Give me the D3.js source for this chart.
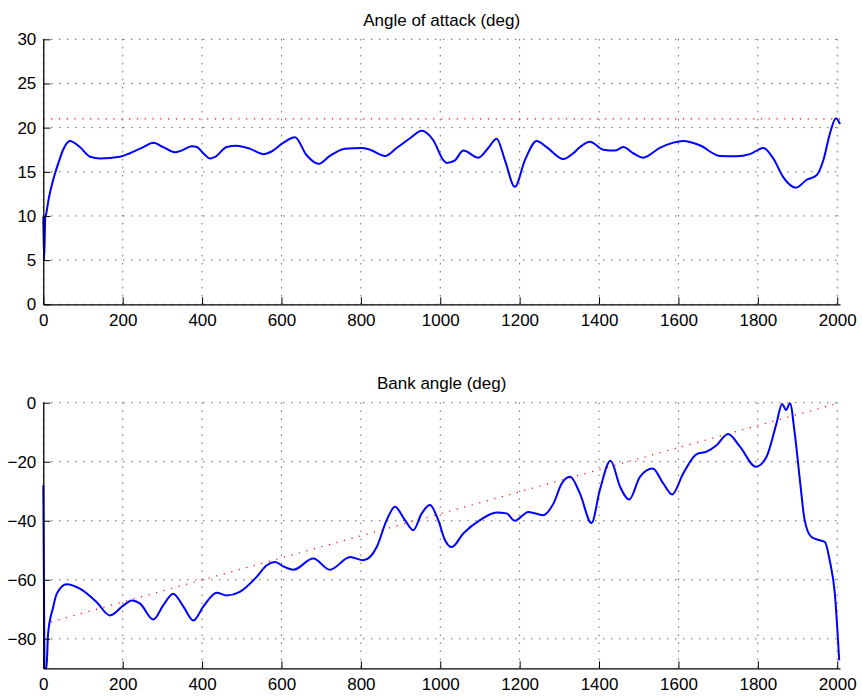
<!DOCTYPE html>
<html>
<head>
<meta charset="utf-8">
<script src="https://cdn.jsdelivr.net/npm/d3@7"></script>
<style>
  body { margin: 0; background: #fff; }
  text { font-family: "Liberation Sans", Arial, sans-serif; }
</style>
</head>
<body>
<svg id="chart" width="862" height="697"></svg>
<script>
// time axis (s)
var xTicks = [0, 200, 400, 600, 800, 1000, 1200, 1400, 1600, 1800, 2000]
var xMax = 2007

// angle of attack
var aoaT = [0, 2, 5, 7, 13, 25, 38, 50, 63, 67, 92, 118, 143, 193, 218, 252, 277, 302, 332, 348, 374, 387, 403, 420, 433, 462, 487, 521, 554, 575, 605, 634, 663, 693, 722, 760, 802, 823, 861, 890, 924, 953, 982, 1008, 1016, 1037, 1058, 1096, 1121, 1142, 1163, 1188, 1213, 1243, 1268, 1310, 1335, 1352, 1377, 1411, 1440, 1461, 1486, 1511, 1553, 1587, 1612, 1654, 1704, 1746, 1780, 1814, 1839, 1864, 1896, 1923, 1948, 1965, 1982, 1997, 2007]
var aoaDeg = [9.9, 5.0, 9.9, 10.2, 11.8, 14.1, 16.0, 17.5, 18.4, 18.5, 17.8, 16.7, 16.5, 16.7, 17.1, 17.8, 18.3, 17.8, 17.2, 17.4, 17.9, 17.8, 17.1, 16.5, 16.7, 17.8, 17.95, 17.6, 17.0, 17.3, 18.3, 18.9, 16.9, 15.9, 16.8, 17.6, 17.7, 17.5, 16.8, 17.7, 18.8, 19.65, 18.6, 16.3, 16.0, 16.3, 17.4, 16.6, 17.7, 18.75, 16.3, 13.3, 16.3, 18.5, 17.8, 16.45, 17.1, 17.8, 18.4, 17.5, 17.4, 17.8, 17.1, 16.6, 17.7, 18.3, 18.5, 18.0, 16.8, 16.75, 17.0, 17.7, 16.5, 14.4, 13.2, 14.1, 14.6, 16.3, 19.4, 21.05, 20.4]
var aoaRefT = [0, 2007]
var aoaRef = [21, 21]
var aoaTicks = [0, 5, 10, 15, 20, 25, 30]

// bank angle
var bankT = [0, 3, 8, 12, 25, 34, 59, 92, 134, 168, 202, 223, 244, 277, 302, 327, 353, 378, 403, 437, 462, 495, 537, 563, 584, 605, 630, 680, 722, 773, 806, 840, 865, 886, 911, 932, 953, 974, 995, 1012, 1029, 1058, 1100, 1142, 1167, 1188, 1222, 1259, 1285, 1306, 1327, 1352, 1381, 1402, 1429, 1453, 1476, 1503, 1535, 1562, 1584, 1612, 1646, 1671, 1696, 1725, 1755, 1795, 1822, 1847, 1861, 1871, 1881, 1893, 1906, 1918, 1935, 1956, 1969, 1981, 1994, 2005]
var bankDeg = [-28, -89.8, -90, -78.3, -69.2, -64.7, -61.5, -63, -67.5, -72.1, -68.7, -67.0, -68.1, -73.5, -68.7, -64.7, -69.1, -73.8, -69.1, -64.4, -65.3, -64.1, -59.1, -55.1, -54.0, -55.5, -56.6, -52.8, -56.6, -52.3, -53.4, -48.9, -39.8, -35.3, -39.8, -43.2, -37.6, -34.7, -39.8, -46.6, -48.9, -44.3, -39.8, -37.2, -37.5, -40.0, -37.0, -38.1, -34.2, -27.4, -25.1, -30.8, -40.8, -29.6, -19.7, -28.5, -32.8, -25.1, -22.3, -27.4, -31.1, -24.0, -17.4, -16.6, -14.4, -10.6, -14.9, -21.7, -18.3, -7.0, -0.4, -2.5, -0.2, -10.4, -26.2, -39.8, -45.5, -46.6, -47.2, -53.4, -64.7, -87.3]
var bankRefT = [0, 2007]
var bankRef = [-75, 0]
var bankTicks = [0, -20, -40, -60, -80]

var svg = d3.select("#chart")
var left = 43.3, right = 840

var x = d3.scaleLinear()
    .domain([0, xMax])
    .range([left, right])

function drawPanel(opts) {
    var y = d3.scaleLinear()
        .domain(opts.yDomain)
        .range([opts.bottom, opts.top])

    var g = svg.append("g")

    // dotted grid
    g.selectAll(".vgrid")
        .data(xTicks)
        .enter().append("line")
        .attr("x1", d => x(d)).attr("x2", d => x(d))
        .attr("y1", opts.top).attr("y2", opts.bottom)
        .attr("stroke", "#222")
        .attr("stroke-width", 1)
        .attr("stroke-dasharray", "1,7")

    g.selectAll(".hgrid")
        .data(opts.yTicks)
        .enter().append("line")
        .attr("x1", left).attr("x2", right)
        .attr("y1", d => y(d)).attr("y2", d => y(d))
        .attr("stroke", "#222")
        .attr("stroke-width", 1)
        .attr("stroke-dasharray", "1,7")

    // reference (dotted red)
    var line = d3.line()
        .x(d => x(d[0]))
        .y(d => y(d[1]))

    g.append("path")
        .attr("fill", "none")
        .attr("stroke", "#ff0000")
        .attr("stroke-width", 1.2)
        .attr("stroke-dasharray", "1.2,6.6")
        .attr("d", line(opts.refT.map((t, i) => [t, opts.ref[i]])))

    // actual (blue), smoothed through the read points
    var smooth = d3.line()
        .x(d => x(d[0]))
        .y(d => y(d[1]))
        .curve(d3.curveMonotoneX)

    g.append("path")
        .attr("fill", "none")
        .attr("stroke", "#0000ff")
        .attr("stroke-width", 2)
        .attr("stroke-linejoin", "round")
        .attr("d", smooth(opts.t.map((t, i) => [t, opts.v[i]])))

    // axes, ticks pointing inward
    g.append("g")
        .attr("transform", "translate(0," + opts.bottom + ")")
        .call(d3.axisBottom(x).tickValues(xTicks).tickSize(-7).tickSizeOuter(0).tickPadding(10).tickFormat(d3.format("d")))

    g.append("g")
        .attr("transform", "translate(" + left + ",0)")
        .call(d3.axisLeft(y).tickValues(opts.yTicks).tickSize(-7).tickSizeOuter(0).tickPadding(7))

    g.selectAll(".domain").attr("stroke", "#000").attr("stroke-width", 1.3)
    g.selectAll(".tick line").attr("stroke", "#000")
    g.selectAll(".tick text")
        .attr("fill", "#000")
        .style("font-size", "17px")
        .style("font-family", "'Liberation Sans', Arial, sans-serif")

    g.append("text")
        .attr("x", (left + right) / 2)
        .attr("y", opts.titleY)
        .attr("text-anchor", "middle")
        .style("font-size", "17px")
        .text(opts.title)
}

drawPanel({
    title: "Angle of attack (deg)", titleY: 26,
    top: 39.3, bottom: 304.3, yDomain: [0, 30], yTicks: aoaTicks,
    t: aoaT, v: aoaDeg, refT: aoaRefT, ref: aoaRef
})

drawPanel({
    title: "Bank angle (deg)", titleY: 389,
    top: 402.7, bottom: 668.3, yDomain: [-90, 0], yTicks: bankTicks,
    t: bankT, v: bankDeg, refT: bankRefT, ref: bankRef
})
</script>
</body>
</html>
